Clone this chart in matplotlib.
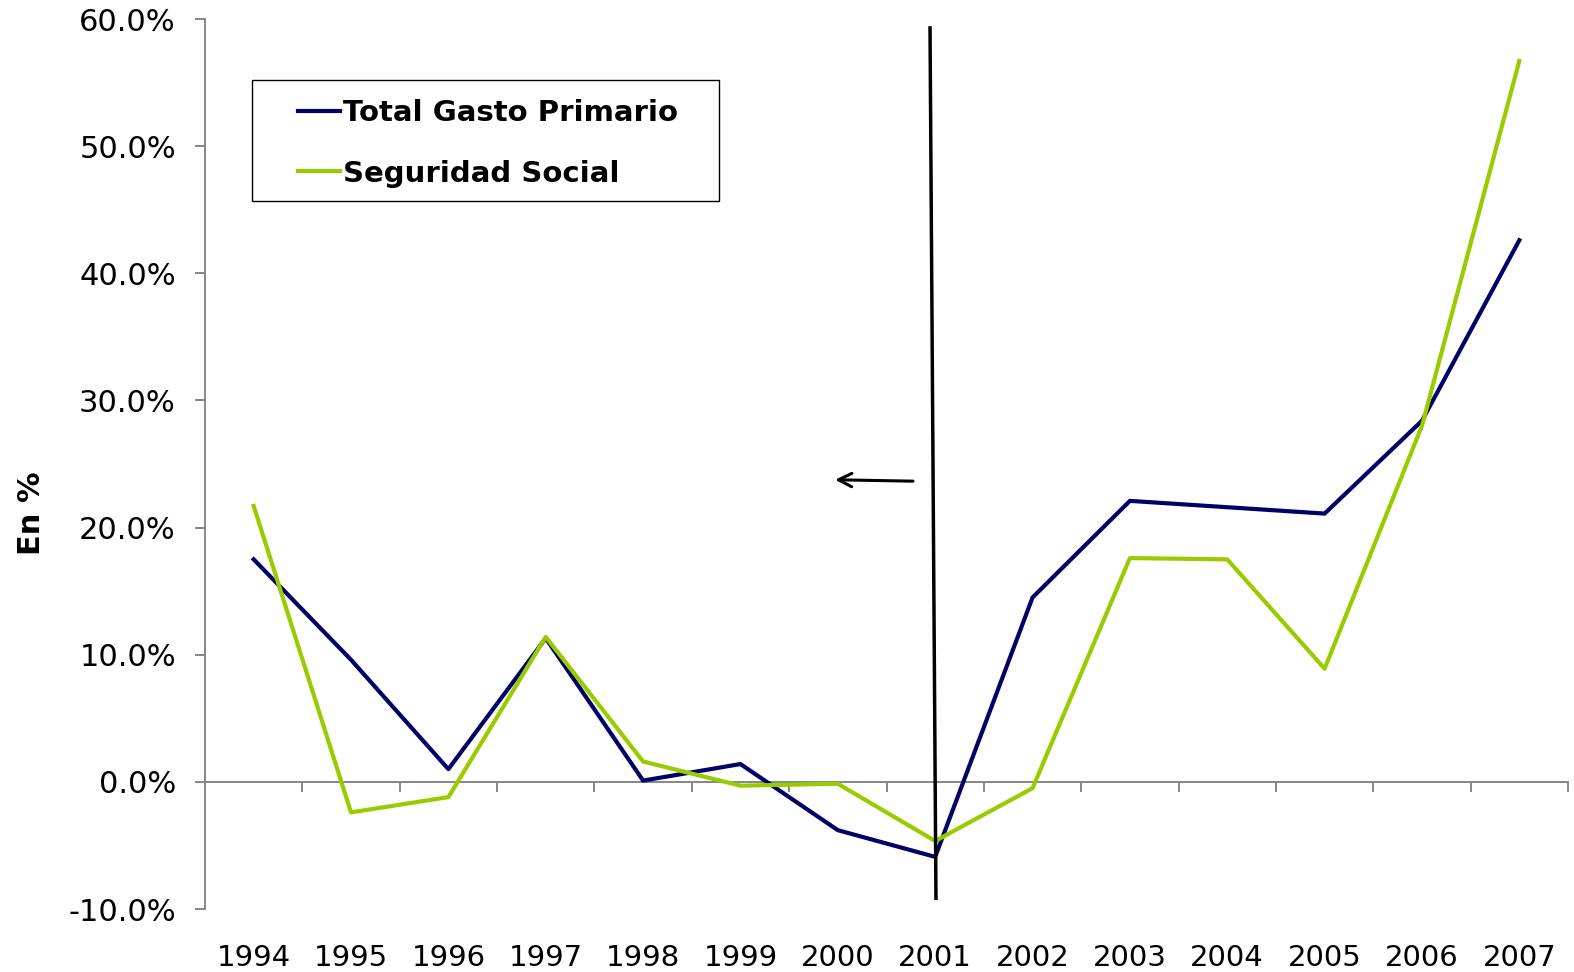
import matplotlib

matplotlib.use("Agg")
import matplotlib.pyplot as plt
from matplotlib.patches import Rectangle
from matplotlib.ticker import FuncFormatter, FixedLocator

# values (percent)
years = ["1994", "1995", "1996", "1997", "1998", "1999", "2000",
         "2001", "2002", "2003", "2004", "2005", "2006", "2007"]
total_gasto = [17.5, 9.6, 1.0, 11.3, 0.1, 1.4, -3.8,
               -5.9, 14.5, 22.1, 21.6, 21.1, 28.4, 42.6]
seguridad_social = [21.7, -2.4, -1.2, 11.4, 1.6, -0.3, -0.15,
                    -4.65, -0.5, 17.6, 17.5, 8.9, 28.0, 56.7]

NAVY = "#000066"
GREEN = "#99cc00"
GRAY = "#868686"
W, H = 1574, 972

plt.rcParams["font.family"] = ["DejaVu Sans"]

fig = plt.figure(figsize=(W / 100, H / 100), dpi=100)
ax = fig.add_axes([205 / W, 1 - 909 / H, (1568 - 205) / W, (909 - 19) / H])

xs = list(range(len(years)))
ax.plot(xs, total_gasto, color=NAVY, linewidth=3.0, label="Total Gasto Primario", zorder=3)
ax.plot(xs, seguridad_social, color=GREEN, linewidth=3.0, label="Seguridad Social", zorder=3)

ax.set_xlim(-0.5, len(years) - 0.5)
ax.set_ylim(-10, 60)
ax.set_yticks(range(-10, 61, 10))
ax.yaxis.set_major_formatter(FuncFormatter(lambda v, _: f"{v:.1f}%"))

# x axis drawn at zero, tick marks between categories, labels far below
for side in ("top", "right"):
    ax.spines[side].set_visible(False)
ax.spines["bottom"].set_position(("data", 0))
for side in ("left", "bottom"):
    ax.spines[side].set_color(GRAY)
    ax.spines[side].set_linewidth(1.4)

ax.set_xticks(xs)
ax.set_xticklabels(years)
ax.xaxis.set_minor_locator(FixedLocator([i + 0.5 for i in xs]))
ax.tick_params(axis="x", which="major", length=0, pad=117, labelsize=21)
ax.tick_params(axis="x", which="minor", length=7, width=1.4, color=GRAY, direction="out")
ax.tick_params(axis="y", length=7, width=1.4, color=GRAY, labelsize=22, pad=14)

ax.set_ylabel("En %", fontsize=22, fontweight="bold")
ax.yaxis.set_label_coords(-0.117, 0.445)

# 2001 break line and arrow
ax.plot([6.947, 7.008], [59.3, -9.16], color="black", linewidth=2.5, zorder=4,
        clip_on=False)
ax.annotate("", xy=(5.971, 23.76), xytext=(6.772, 23.65),
            arrowprops=dict(arrowstyle="->", color="black", lw=2.2,
                            mutation_scale=24, shrinkA=0, shrinkB=0))

# legend box drawn separately so the padding can differ per side
ax.add_patch(Rectangle((252 / W, 1 - 201 / H), (719 - 252) / W, (201 - 80) / H,
                       transform=fig.transFigure, facecolor="white",
                       edgecolor="black", linewidth=1.0, zorder=5, clip_on=False))
leg = ax.legend(loc="upper left", bbox_to_anchor=(298 / W, 1 - 99 / H),
                bbox_transform=fig.transFigure, borderaxespad=0, borderpad=0,
                prop={"size": 21, "weight": "bold"}, frameon=False,
                handlelength=1.45, handletextpad=0.1, labelspacing=1.12)
leg.set_zorder(6)
for line in leg.get_lines():
    line.set_linewidth(3.0)

fig.savefig("out.png", dpi=100)
